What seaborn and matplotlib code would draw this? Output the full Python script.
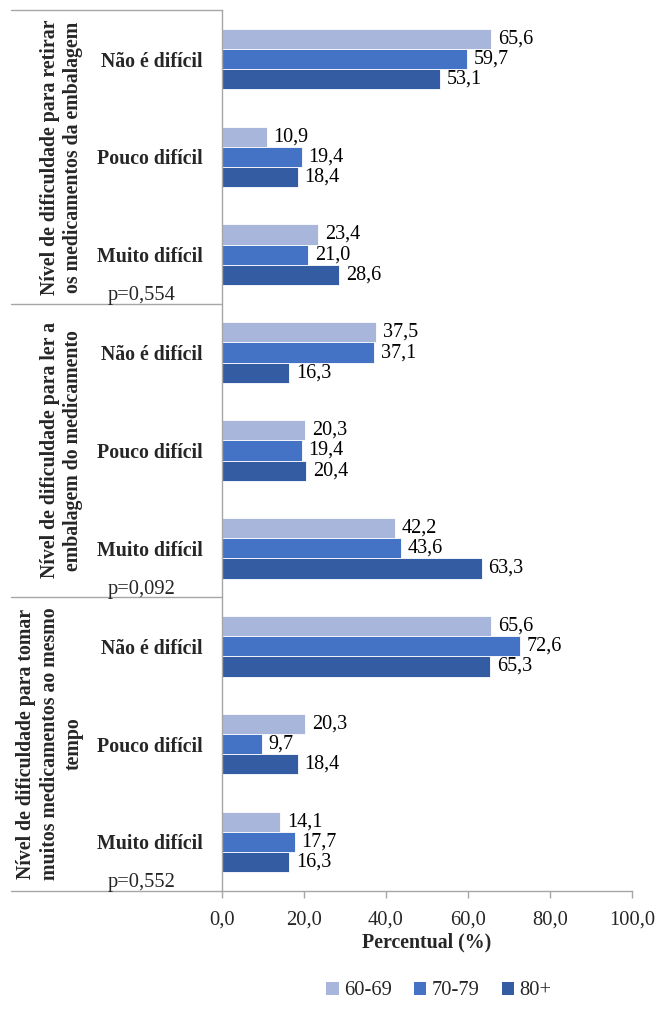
import matplotlib.pyplot as plt
import pandas as pd
import seaborn as sns
from matplotlib.patches import Patch
from matplotlib.transforms import blended_transform_factory

# data
groups = [
    "Nível de dificuldade para retirar\nos medicamentos da embalagem",
    "Nível de dificuldade para ler a\nembalagem do medicamento",
    "Nível de dificuldade para tomar\nmuitos medicamentos ao mesmo\ntempo",
]
p_values = ["p=0,554", "p=0,092", "p=0,552"]
levels = ["Não é difícil", "Pouco difícil", "Muito difícil"]
ages = ["60-69", "70-79", "80+"]

vals_60_69 = [65.6, 10.9, 23.4, 37.5, 20.3, 42.2, 65.6, 20.3, 14.1]
vals_70_79 = [59.7, 19.4, 21.0, 37.1, 19.4, 43.6, 72.6, 9.7, 17.7]
vals_80 = [53.1, 18.4, 28.6, 16.3, 20.4, 63.3, 65.3, 18.4, 16.3]

colors = ["#a9b6dc", "#4472c4", "#345ca2"]

FS = 14.8


def main():
    sns.set_theme(style="white")
    plt.rcParams["font.family"] = ["Liberation Serif", "DejaVu Serif"]

    rows = [f"{g}|{lv}" for g in range(len(groups)) for lv in levels]
    df = pd.DataFrame({
        "row": rows * 3,
        "age": [a for a in ages for _ in rows],
        "value": vals_60_69 + vals_70_79 + vals_80,
    })

    fig = plt.figure(figsize=(6.57, 10.10), dpi=100)
    ax = fig.add_axes([0.338, 0.118, 0.624, 0.872])

    sns.barplot(
        data=df, y="row", x="value", hue="age", order=rows, hue_order=ages,
        palette=colors, orient="h", width=0.62, saturation=1,
        edgecolor="white", linewidth=0.6, legend=False, ax=ax,
    )

    for cont in ax.containers:
        labels = [f"{b.get_width():.1f}".replace(".", ",") for b in cont]
        ax.bar_label(cont, labels=labels, padding=5, fontsize=14.5, color="black")

    ax.set_xlim(0, 100)
    ax.set_ylim(len(rows) - 0.5, -0.5)
    ax.set_xticks([0, 20, 40, 60, 80, 100])
    ax.set_xticklabels([f"{t:.1f}".replace(".", ",") for t in [0, 20, 40, 60, 80, 100]], fontsize=FS)
    ax.set_yticks(range(len(rows)))
    ax.set_yticklabels([r.split("|")[1] for r in rows], fontsize=14.3, fontweight="bold")
    ax.tick_params(axis="y", length=0, pad=14)
    ax.tick_params(axis="x", direction="out", length=5, color="#a6a6a6", width=1, pad=9, bottom=True)
    ax.set_ylabel("")
    ax.set_xlabel("Percentual (%)", fontsize=14.3, fontweight="bold", labelpad=2)

    for side in ["top", "right"]:
        ax.spines[side].set_visible(False)
    for side in ["left", "bottom"]:
        ax.spines[side].set_color("#a6a6a6")
        ax.spines[side].set_linewidth(1)

    trans = blended_transform_factory(ax.transAxes, ax.transData)
    for yb in [-0.5, 2.5, 5.5, 8.5]:
        ax.plot([-0.515, 0], [yb, yb], transform=trans, color="#a6a6a6", lw=1, clip_on=False)

    for g, (label, pv) in enumerate(zip(groups, p_values)):
        ax.text(-0.338, 3 * g + 1, label, transform=trans, rotation=90, ha="right", va="center",
                multialignment="center", fontsize=14.3, fontweight="bold", linespacing=1.25)
        ax.text(-0.28, 3 * g + 2.42, pv, transform=trans, ha="left", va="center", fontsize=FS)

    handles = [Patch(facecolor=c, edgecolor="none") for c in colors]
    fig.legend(handles, ages, loc="center", bbox_to_anchor=(0.668, 0.019), ncol=3, frameon=False,
               fontsize=FS, handlelength=0.6, handleheight=0.6, handletextpad=0.25, columnspacing=1.1)

    fig.savefig("out.png", dpi=100)
    plt.close(fig)


if __name__ == "__main__":
    main()
